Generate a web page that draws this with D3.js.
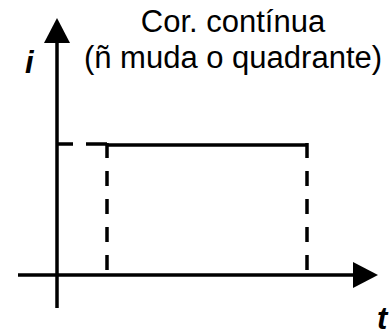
<!DOCTYPE html>
<html>
<head>
<meta charset="utf-8">
<script src="https://cdn.jsdelivr.net/npm/d3@7"></script>
<style>
  body { margin: 0; background: #fff; }
  svg { display: block; }
  text { font-family: "Liberation Sans", Arial, sans-serif; fill: #000; }
</style>
</head>
<body>
<div id="chart"></div>
<script>
// pulse data: constant current between t1 and t2
var pulseT = [1, 5];
var pulseI = [1, 1];
var titleLines = ["Cor. contínua", "(ñ muda o quadrante)"];
var axisLabels = ["i", "t"];

var width = 389, height = 329;

var x = d3.scaleLinear().domain([0, 1]).range([57, 107]);
var y = d3.scaleLinear().domain([0, 1]).range([275, 145]);

var svg = d3.select("#chart").append("svg")
    .attr("width", width)
    .attr("height", height);

// axes
var tMin = x.invert(18), tMax = x.invert(378);
var iMin = y.invert(308), iMax = y.invert(18);

svg.append("line")
    .attr("x1", x(tMin)).attr("x2", x(tMax) - 20)
    .attr("y1", y(0)).attr("y2", y(0))
    .attr("stroke", "#000").attr("stroke-width", 3.5);

svg.append("line")
    .attr("x1", x(0)).attr("x2", x(0))
    .attr("y1", y(iMin)).attr("y2", y(iMax) + 20)
    .attr("stroke", "#000").attr("stroke-width", 3.5);

// arrow heads
svg.append("path")
    .attr("d", "M" + x(tMax) + "," + y(0) + "L" + (x(tMax) - 25) + "," + (y(0) - 13) +
               "L" + (x(tMax) - 25) + "," + (y(0) + 13) + "Z")
    .attr("fill", "#000");

svg.append("path")
    .attr("d", "M" + x(0) + "," + y(iMax) + "L" + (x(0) - 13) + "," + (y(iMax) + 25) +
               "L" + (x(0) + 13) + "," + (y(iMax) + 25) + "Z")
    .attr("fill", "#000");

// dashed projection from i axis to pulse start
svg.append("line")
    .attr("x1", x(0) + 1).attr("x2", x(pulseT[0]))
    .attr("y1", y(pulseI[0]) - 1).attr("y2", y(pulseI[0]) - 1)
    .attr("stroke", "#000").attr("stroke-width", 3.5)
    .attr("stroke-dasharray", "15,13,22");

// solid pulse level
svg.append("line")
    .attr("x1", x(pulseT[0])).attr("x2", x(pulseT[1]))
    .attr("y1", y(pulseI[0])).attr("y2", y(pulseI[1]))
    .attr("stroke", "#000").attr("stroke-width", 3.5);

// dashed edges
svg.selectAll(".edge")
    .data(pulseT)
    .enter().append("line")
        .attr("class", "edge")
        .attr("x1", function(d) { return x(d); })
        .attr("x2", function(d) { return x(d); })
        .attr("y1", y(1) - 2)
        .attr("y2", y(0) - 4)
        .attr("stroke", "#000").attr("stroke-width", 3.5)
        .attr("stroke-dasharray", "15,13");

// title
svg.selectAll(".title")
    .data(titleLines)
    .enter().append("text")
        .attr("class", "title")
        .attr("x", 233)
        .attr("y", function(d, i) { return 32 + i * 36; })
        .attr("text-anchor", "middle")
        .style("font-size", "31px")
        .text(function(d) { return d; });

// axis labels
svg.append("text")
    .attr("x", 25).attr("y", 73)
    .style("font-size", "31px").style("font-weight", "bold").style("font-style", "italic")
    .text(axisLabels[0]);

svg.append("text")
    .attr("x", 377).attr("y", 329)
    .style("font-size", "31px").style("font-weight", "bold").style("font-style", "italic")
    .text(axisLabels[1]);
</script>
</body>
</html>
